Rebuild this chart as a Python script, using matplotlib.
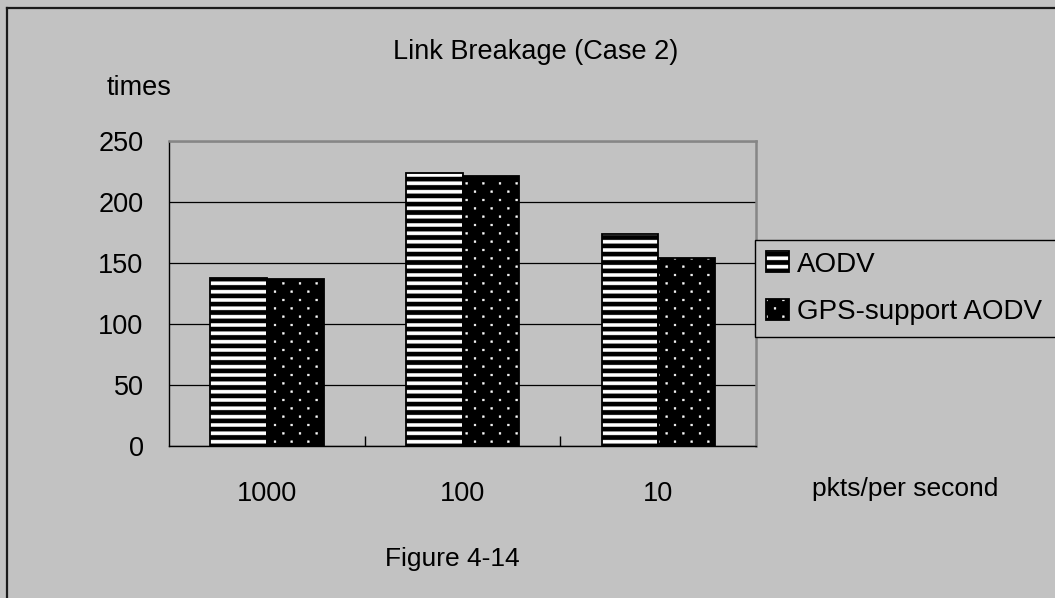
import numpy as np
import matplotlib
matplotlib.use("Agg")
import matplotlib.pyplot as plt
import matplotlib.hatch as mhatch
from matplotlib.path import Path
from matplotlib.patches import Rectangle
from matplotlib.legend_handler import HandlerTuple
from matplotlib.lines import Line2D

# ---- data -------------------------------------------------------------
categories = ["1000", "100", "10"]
aodv = [138, 224, 174]
gps_aodv = [137, 221, 154]
series_names = ["AODV", "GPS-support AODV"]
y_ticks = [0, 50, 100, 150, 200, 250]


# ---- fill patterns ----------------------------------------------------
class StripeHatch(mhatch.HatchPatternBase):
    """'-': solid horizontal bands, twelve per hatch tile."""

    def __init__(self, hatch, density):
        self.bands = 12 if "-" in hatch else 0
        self.half = 0.016
        self.num_vertices = (self.bands + 1) * 5 if self.bands else 0

    def set_vertices_and_codes(self, vertices, codes):
        for i, y in enumerate(np.linspace(0, 1, self.bands + 1)):
            lo, hi = y - self.half, y + self.half
            vertices[5 * i:5 * i + 5] = [(0, lo), (1, lo), (1, hi), (0, hi), (0, lo)]
            codes[5 * i:5 * i + 5] = [Path.MOVETO, Path.LINETO, Path.LINETO,
                                      Path.LINETO, Path.CLOSEPOLY]


class DotHatch(mhatch.HatchPatternBase):
    """'.': small square dots on a staggered lattice."""

    def __init__(self, hatch, density):
        rows, cols = 12, 6
        self.side = 0.009
        self.centres = []
        if "." in hatch:
            for r in range(rows + 1):
                if r % 2 == 0:
                    xs = np.arange(cols + 1) / cols
                else:
                    xs = (np.arange(cols) + 0.5) / cols
                self.centres += [(x, r / rows) for x in xs]
        self.num_vertices = len(self.centres) * 5

    def set_vertices_and_codes(self, vertices, codes):
        s = self.side
        for i, (x, y) in enumerate(self.centres):
            vertices[5 * i:5 * i + 5] = [(x - s, y - s), (x + s, y - s), (x + s, y + s),
                                         (x - s, y + s), (x - s, y - s)]
            codes[5 * i:5 * i + 5] = [Path.MOVETO, Path.LINETO, Path.LINETO,
                                      Path.LINETO, Path.CLOSEPOLY]


mhatch._hatch_types[:] = [StripeHatch, DotHatch]

# ---- style ------------------------------------------------------------
BG = "#C2C2C2"
plt.rcParams["font.family"] = ["Liberation Sans", "DejaVu Sans"]
plt.rcParams["hatch.linewidth"] = 0.3

W, H = 1055, 598
fig = plt.figure(figsize=(W / 100, H / 100), dpi=100, facecolor=BG)


def fx(px):
    return px / W


def fy(py):
    return 1 - py / H


ax = fig.add_axes([fx(169.3), fy(446), fx(756) - fx(169.3), fy(141) - fy(446)])
ax.set_facecolor(BG)

x = np.arange(len(categories))
w = 0.29
patterns = ["-", "."]
for k, (vals, pat) in enumerate(zip([aodv, gps_aodv], patterns)):
    pos = x + (k - 0.5) * w
    ax.bar(pos, vals, width=w, color="black", edgecolor="white",
           linewidth=0, hatch=pat, zorder=2)
    ax.bar(pos, vals, width=w, fill=False, edgecolor="black",
           linewidth=1.3, zorder=3)

ax.set_xlim(-0.5, len(categories) - 0.5)
ax.set_ylim(y_ticks[0], y_ticks[-1])
ax.set_yticks(y_ticks)
ax.set_yticklabels([str(t) for t in y_ticks])
ax.set_xticks(x)
ax.set_xticklabels(categories)
ax.set_xticks(x[:-1] + 0.5, minor=True)
ax.tick_params(axis="y", length=0, pad=18.5, labelsize=19.5)
ax.tick_params(axis="x", which="major", length=0, pad=25.5, labelsize=19.5)
ax.tick_params(axis="x", which="minor", direction="in", length=7,
               width=1.0, color="black")

ax.yaxis.grid(True, color="black", linewidth=0.9)
ax.set_axisbelow(True)

for side in ("left", "bottom"):
    ax.spines[side].set_color("black")
    ax.spines[side].set_linewidth(1.0)
for side in ("top", "right"):
    ax.spines[side].set_color("#868686")
    ax.spines[side].set_linewidth(1.8)

# ---- texts --------------------------------------------------------------
fig.text(fx(535.5), fy(59.3), "Link Breakage (Case 2)", ha="center",
         va="baseline", fontsize=19.5)
fig.text(fx(107), fy(95), "times", ha="left", va="baseline", fontsize=19.5)
fig.text(fx(811.7), fy(496), "pkts/per second", ha="left", va="baseline",
         fontsize=19)
fig.text(fx(385), fy(566), "Figure 4-14", ha="left", va="baseline",
         fontsize=19)

# ---- legend -------------------------------------------------------------
handles = []
for pat in patterns:
    fill = Rectangle((0, 0), 1, 1, facecolor="black", edgecolor="white",
                     linewidth=0, hatch=pat)
    frame = Rectangle((0, 0), 1, 1, fill=False, edgecolor="black",
                      linewidth=1.3)
    handles.append((fill, frame))

leg = fig.legend(handles, series_names, loc="lower left",
                 bbox_to_anchor=(fx(755), fy(336.7), fx(1090) - fx(755),
                                 fy(241.7) - fy(336.7)),
                 mode="expand", borderaxespad=0, fontsize=20,
                 handler_map={tuple: HandlerTuple(ndivide=1, pad=0)},
                 handlelength=0.8, handleheight=0.78, handletextpad=0.3,
                 labelspacing=0.78, borderpad=0.41, fancybox=False,
                 framealpha=1, facecolor=BG, edgecolor="black")
leg.get_frame().set_linewidth(1.0)

# ---- outer border -------------------------------------------------------
fig.add_artist(Line2D([fx(7), 1.05], [fy(8), fy(8)], transform=fig.transFigure,
                      color="#1a1a1a", linewidth=1.6))
fig.add_artist(Line2D([fx(7), fx(7)], [fy(8), -0.05], transform=fig.transFigure,
                      color="#1a1a1a", linewidth=1.6))

fig.savefig("out.png", dpi=100, facecolor=BG)
